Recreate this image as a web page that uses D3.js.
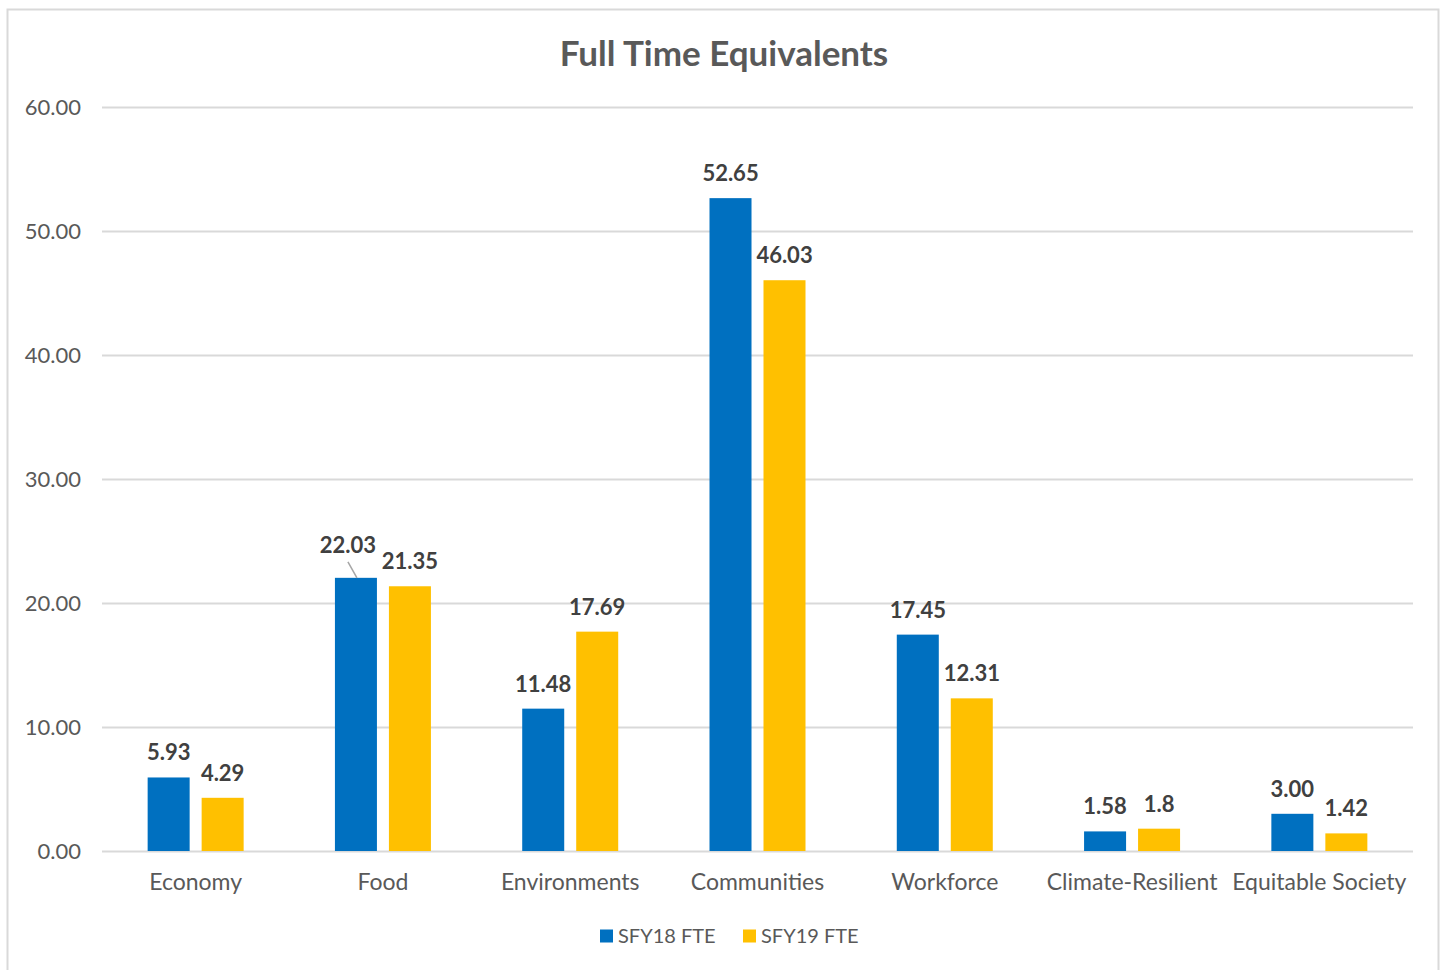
<!DOCTYPE html>
<html>
<head>
<meta charset="utf-8">
<script src="https://cdn.jsdelivr.net/npm/d3@7"></script>
<style>
  body { margin: 0; background: #fff; }
  svg { display: block; font-family: Lato, "Open Sans", sans-serif; }
</style>
</head>
<body>
<div id="chart"></div>
<script>
// data
var categories = ["Economy", "Food", "Environments", "Communities", "Workforce", "Climate-Resilient", "Equitable Society"];
var seriesNames = ["SFY18 FTE", "SFY19 FTE"];
var sfy18 = ["5.93", "22.03", "11.48", "52.65", "17.45", "1.58", "3.00"];
var sfy19 = ["4.29", "21.35", "17.69", "46.03", "12.31", "1.8", "1.42"];
var yTicks = [0, 10, 20, 30, 40, 50, 60];
var colors = ["#0070c0", "#ffc000"];

var w = 1447, h = 970;

var rows = categories.map(function (c, i) {
  return { cat: c, vals: [sfy18[i], sfy19[i]] };
});

var svg = d3.select("#chart").append("svg")
  .attr("width", w)
  .attr("height", h);

// chart frame
svg.append("rect")
  .attr("x", 7.5).attr("y", 9.5)
  .attr("width", 1431).attr("height", 980)
  .attr("fill", "#fff")
  .attr("stroke", "#d9d9d9")
  .attr("stroke-width", 2);

var xScale = d3.scaleBand()
  .domain(categories)
  .range([102, 1413]);

var inner = d3.scaleBand()
  .domain([0, 1])
  .range([-48, 48])
  .paddingInner(0.222);

var yScale = d3.scaleLinear()
  .domain([0, 60])
  .range([851, 107]);

// gridlines + y labels
var yAxis = d3.axisLeft(yScale)
  .tickValues(yTicks)
  .tickFormat(d3.format(".2f"))
  .tickSize(-(1413 - 102))
  .tickPadding(21);

var gy = svg.append("g")
  .attr("transform", "translate(102,0)")
  .call(yAxis);
gy.select(".domain").remove();
gy.selectAll(".tick line").attr("stroke", "#d9d9d9").attr("stroke-width", 2);
gy.selectAll(".tick text")
  .attr("fill", "#595959")
  .attr("font-size", "22px")
  .attr("font-family", "Lato, sans-serif");

// x labels
var xAxis = d3.axisBottom(xScale).tickSize(0).tickPadding(23);
var gx = svg.append("g")
  .attr("transform", "translate(0,851)")
  .call(xAxis);
gx.select(".domain").remove();
gx.selectAll(".tick text")
  .attr("fill", "#595959")
  .attr("font-size", "23px")
  .attr("font-family", "Lato, sans-serif");

// bars
var groups = svg.selectAll("g.cat")
  .data(rows)
  .enter()
  .append("g")
  .attr("class", "cat")
  .attr("transform", function (d) {
    return "translate(" + (xScale(d.cat) + xScale.bandwidth() / 2) + ",0)";
  });

groups.selectAll("rect")
  .data(function (d) { return d.vals.map(function (v, j) { return { v: +v, s: v, j: j, cat: d.cat }; }); })
  .enter()
  .append("rect")
  .attr("x", function (d) { return inner(d.j); })
  .attr("y", function (d) { return yScale(d.v); })
  .attr("width", inner.bandwidth())
  .attr("height", function (d) { return yScale(0) - yScale(d.v); })
  .attr("fill", function (d) { return colors[d.j]; });

// value labels; the Food SFY18 label was dragged up in the original
var nudge = { "Food-0": [-8, -8] };

groups.selectAll("text.val")
  .data(function (d) { return d.vals.map(function (v, j) { return { v: +v, s: v, j: j, cat: d.cat }; }); })
  .enter()
  .append("text")
  .attr("class", "val")
  .attr("x", function (d) {
    var n = nudge[d.cat + "-" + d.j] || [0, 0];
    return inner(d.j) + inner.bandwidth() / 2 + n[0];
  })
  .attr("y", function (d) {
    var n = nudge[d.cat + "-" + d.j] || [0, 0];
    return yScale(d.v) - 25 + n[1];
  })
  .attr("dy", "0.36em")
  .attr("text-anchor", "middle")
  .attr("font-size", "22px")
  .attr("font-weight", "bold")
  .attr("fill", "#404040")
  .text(function (d) { return d.s; });

// leader line for the moved label
svg.append("line")
  .attr("x1", xScale("Food") + xScale.bandwidth() / 2 + inner(0) + 13)
  .attr("y1", yScale(+sfy18[1]) - 16)
  .attr("x2", xScale("Food") + xScale.bandwidth() / 2 + inner(0) + 22)
  .attr("y2", yScale(+sfy18[1]))
  .attr("stroke", "#a6a6a6")
  .attr("stroke-width", 1.5);

// title
svg.append("text")
  .attr("x", 724)
  .attr("y", 53)
  .attr("dy", "0.36em")
  .attr("text-anchor", "middle")
  .attr("font-size", "35px")
  .attr("font-weight", "bold")
  .attr("fill", "#595959")
  .text("Full Time Equivalents");

// legend
var legendX = [600, 743];
var legend = svg.selectAll("g.leg")
  .data(seriesNames)
  .enter()
  .append("g")
  .attr("class", "leg")
  .attr("transform", function (d, i) { return "translate(" + legendX[i] + ",936)"; });

legend.append("rect")
  .attr("x", 0).attr("y", -6.5)
  .attr("width", 13).attr("height", 13)
  .attr("fill", function (d, i) { return colors[i]; });

legend.append("text")
  .attr("x", 18)
  .attr("dy", "0.36em")
  .attr("font-size", "20px")
  .attr("fill", "#595959")
  .text(function (d) { return d; });
</script>
</body>
</html>
